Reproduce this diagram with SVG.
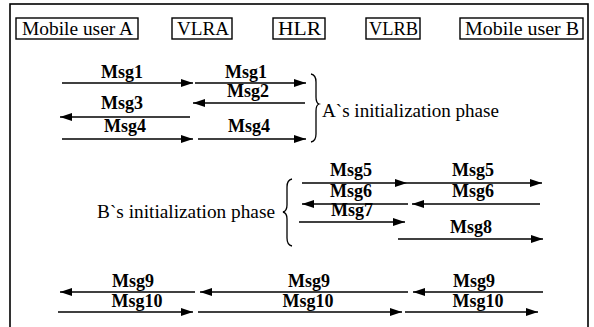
<svg xmlns="http://www.w3.org/2000/svg" width="594" height="327" viewBox="0 0 594 327">
<defs>
<marker id="ah" viewBox="0 0 12 8" refX="12" refY="4" markerWidth="12" markerHeight="8" markerUnits="userSpaceOnUse" orient="auto">
<path d="M0,0 L12,4 L0,8 Z" fill="#000"/>
</marker>
</defs>
<style>
.t{font-family:'Liberation Serif','Times New Roman',serif;font-size:18px;fill:#000}
.m{text-anchor:middle;font-weight:bold;font-size:18px}
.box{fill:#fff;stroke:#000;stroke-width:1.4}
.c line{stroke:#000;stroke-width:1.3;marker-end:url(#ah)}
.br{fill:none;stroke:#000;stroke-width:1.3}
</style>
<rect x="0" y="0" width="594" height="327" fill="#fff"/>
<rect x="10" y="4" width="578" height="330" fill="none" stroke="#000" stroke-width="1.6"/>
<g class="t" font-family="Liberation Serif, serif" font-size="18">
<g id="userA"><rect class="box" x="16" y="18" width="122" height="21"/><text x="22" y="35" textLength="111" lengthAdjust="spacingAndGlyphs">Mobile user A</text></g>
<g id="vlra"><rect class="box" x="172" y="18" width="60" height="21"/><text x="177" y="35" textLength="52" lengthAdjust="spacingAndGlyphs">VLRA</text></g>
<g id="hlr"><rect class="box" x="273" y="18" width="52" height="21"/><text x="278" y="35" textLength="43" lengthAdjust="spacingAndGlyphs">HLR</text></g>
<g id="vlrb"><rect class="box" x="366" y="18" width="54" height="21"/><text x="369" y="35" textLength="49" lengthAdjust="spacingAndGlyphs">VLRB</text></g>
<g id="userB"><rect class="box" x="460" y="18" width="123" height="21"/><text x="465" y="35" textLength="114" lengthAdjust="spacingAndGlyphs">Mobile user B</text></g>
<g id="phaseA">
<path class="br" d="M311,74 Q316,75 316,82 L316,97 Q316,103 319,104 Q316,105 316,111 L316,134 Q316,141 311,142"/>
<text x="322" y="117" textLength="177" lengthAdjust="spacingAndGlyphs">A`s initialization phase</text>
</g>
<g id="phaseB">
<path class="br" d="M292,179 Q287,180 287,187 L287,205 Q287,211 283,212 Q287,213 287,219 L287,238 Q287,245 292,246"/>
<text x="97" y="218" textLength="178" lengthAdjust="spacingAndGlyphs">B`s initialization phase</text>
</g>
<g class="c" id="connectors">
<line x1="62" y1="83" x2="193" y2="83"/>
<line x1="195" y1="83" x2="306" y2="83"/>
<line x1="305" y1="103" x2="193" y2="103"/>
<line x1="190" y1="117" x2="60" y2="117"/>
<line x1="62" y1="139" x2="193" y2="139"/>
<line x1="198" y1="139" x2="306" y2="139"/>
<line x1="302" y1="183" x2="407" y2="183"/>
<line x1="407" y1="183" x2="542" y2="183"/>
<line x1="408" y1="204" x2="302" y2="204"/>
<line x1="540" y1="204" x2="412" y2="204"/>
<line x1="299" y1="222" x2="405" y2="222"/>
<line x1="398" y1="239" x2="543" y2="239"/>
<line x1="195" y1="292" x2="60" y2="292"/>
<line x1="408" y1="292" x2="200" y2="292"/>
<line x1="543" y1="292" x2="413" y2="292"/>
<line x1="58" y1="312" x2="193" y2="312"/>
<line x1="198" y1="312" x2="402" y2="312"/>
<line x1="405" y1="312" x2="538" y2="312"/>
</g>
<g id="labels">
<text class="m" x="122" y="78">Msg1</text>
<text class="m" x="246" y="78">Msg1</text>
<text class="m" x="248" y="97">Msg2</text>
<text class="m" x="122" y="109">Msg3</text>
<text class="m" x="125" y="132">Msg4</text>
<text class="m" x="249" y="132">Msg4</text>
<text class="m" x="351" y="176">Msg5</text>
<text class="m" x="473" y="176">Msg5</text>
<text class="m" x="351" y="197">Msg6</text>
<text class="m" x="473" y="197">Msg6</text>
<text class="m" x="352" y="216">Msg7</text>
<text class="m" x="471" y="233">Msg8</text>
<text class="m" x="133" y="287">Msg9</text>
<text class="m" x="309" y="287">Msg9</text>
<text class="m" x="474" y="287">Msg9</text>
<text class="m" x="137" y="307">Msg10</text>
<text class="m" x="308" y="307">Msg10</text>
<text class="m" x="478" y="307">Msg10</text>
</g>
</g>
</svg>
